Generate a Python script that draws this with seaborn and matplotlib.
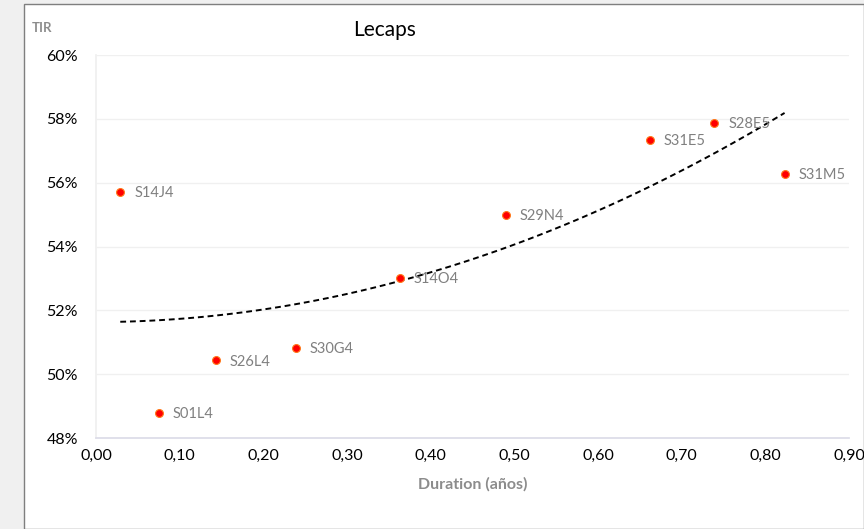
import matplotlib
matplotlib.use("Agg")
import matplotlib.pyplot as plt
import matplotlib.patches as mpatches
from matplotlib.ticker import FuncFormatter, MultipleLocator
import seaborn as sns
import pandas as pd

names = ["S14J4", "S01L4", "S26L4", "S30G4", "S14O4", "S29N4", "S31E5", "S28E5", "S31M5"]
duration = [0.029, 0.075, 0.143, 0.239, 0.363, 0.490, 0.662, 0.739, 0.823]
tir = [55.71, 48.78, 50.44, 50.82, 53.01, 54.99, 57.34, 57.87, 56.27]

df = pd.DataFrame({"name": names, "duration": duration, "tir": tir})

sns.set_theme(style="white")
plt.rcParams["font.family"] = ["Lato", "DejaVu Sans"]

fig = plt.figure(figsize=(8.64, 5.29), dpi=100)
fig.patch.set_facecolor("#f0f0f0")
fig.patches.append(mpatches.Rectangle((24 / 864, 0), 1 - 24 / 864, 1 - 4 / 529,
                                      transform=fig.transFigure, facecolor="white",
                                      edgecolor="#7f7f7f", linewidth=1.0, zorder=-5))

ax = fig.add_axes([96 / 864, 1 - 438 / 529, (849 - 96) / 864, (438 - 55) / 529])
ax.set_facecolor("none")
ax.set_zorder(2)

sns.regplot(data=df, x="duration", y="tir", order=2, ci=None, scatter=False, ax=ax,
            line_kws=dict(color="black", linestyle=(0, (3, 2)), linewidth=1.4))
sns.scatterplot(data=df, x="duration", y="tir", ax=ax, color="#ff0000",
                edgecolor="#ff7a1a", linewidth=0.8, s=32, zorder=3)

for n, xv, yv in zip(names, duration, tir):
    ax.annotate(n, (xv, yv), xytext=(10, -1), textcoords="offset points",
                color="#808080", fontsize=10.5, ha="left", va="center")

ax.set_xlim(0, 0.9)
ax.set_ylim(48, 60)
ax.xaxis.set_major_locator(MultipleLocator(0.1))
ax.yaxis.set_major_locator(MultipleLocator(2))
ax.xaxis.set_major_formatter(FuncFormatter(lambda v, p: f"{v:.2f}".replace(".", ",")))
ax.yaxis.set_major_formatter(FuncFormatter(lambda v, p: f"{v:.0f}%"))
ax.grid(axis="y", color="#f0f0f0", linewidth=1)
ax.grid(axis="x", visible=False)
for s in ["top", "right"]:
    ax.spines[s].set_visible(False)
ax.spines["left"].set_color("#f0f0f0")
ax.spines["bottom"].set_color("#dcdce8")
ax.tick_params(axis="both", length=0, labelsize=11.5, colors="black")
ax.tick_params(axis="x", pad=8)
ax.tick_params(axis="y", pad=13)

ax.set_xlabel("Duration (años)", fontsize=11.5, fontweight="bold", color="#8c8c8c", labelpad=10)
ax.set_ylabel("")
fig.text(32 / 864, 1 - 28 / 529, "TIR", fontsize=9.5, fontweight="bold", color="#8c8c8c",
         ha="left", va="center")
fig.text(385 / 864, 1 - 30 / 529, "Lecaps", fontsize=15, color="black",
         ha="center", va="center")

fig.savefig("out.png", dpi=100, facecolor=fig.get_facecolor())
